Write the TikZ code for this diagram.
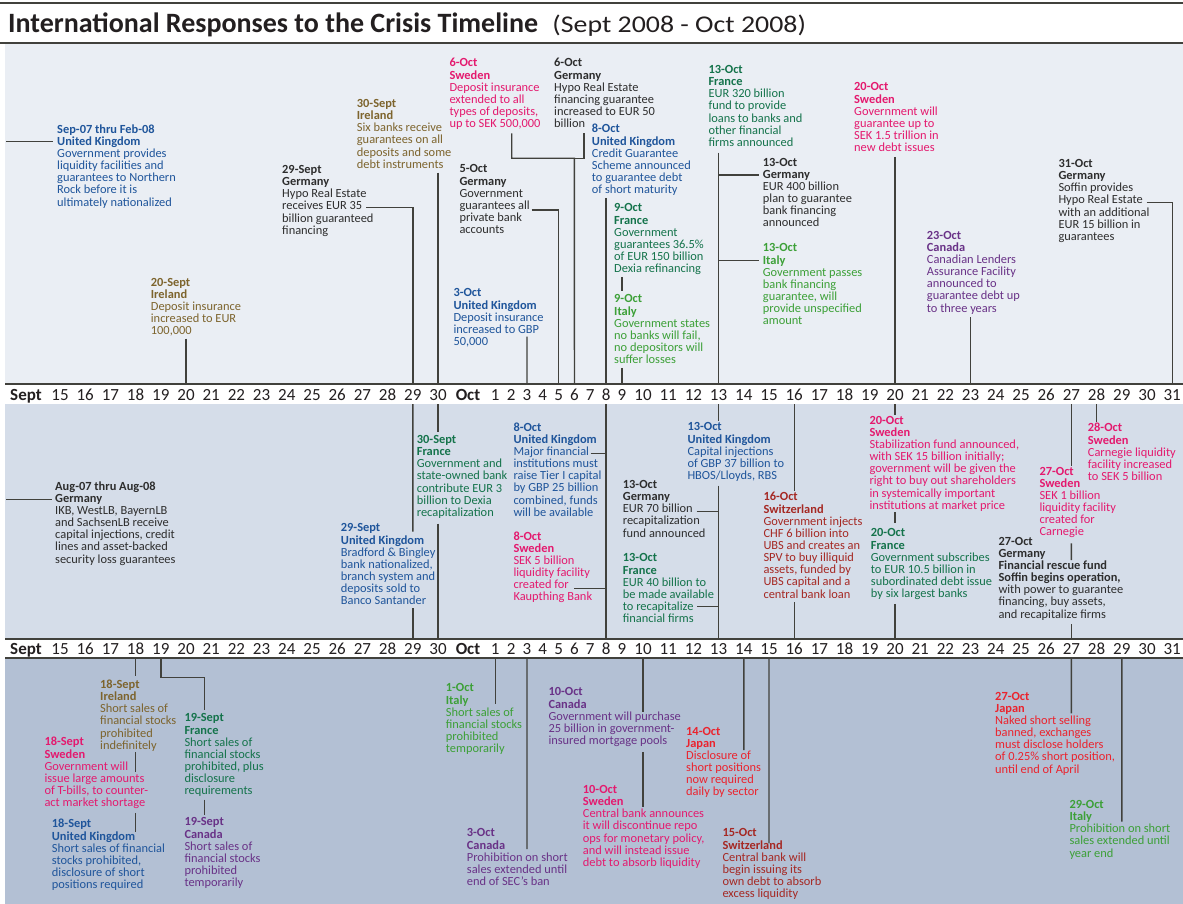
\documentclass[tikz,border=0pt]{standalone}
\usepackage{fontspec}
\usepackage{graphicx}
\setmainfont{Carlito}
\usetikzlibrary{calc}
\definecolor{cUK}{RGB}{31,85,155}
\definecolor{cIE}{RGB}{125,100,45}
\definecolor{cDE}{RGB}{45,45,45}
\definecolor{cSE}{RGB}{228,25,110}
\definecolor{cFR}{RGB}{20,115,75}
\definecolor{cIT}{RGB}{60,160,55}
\definecolor{cCA}{RGB}{105,50,135}
\definecolor{cCH}{RGB}{165,40,35}
\definecolor{cJP}{RGB}{235,35,45}
\definecolor{ptop}{RGB}{234,238,244}
\definecolor{pmid}{RGB}{213,221,233}
\definecolor{pbot}{RGB}{179,192,212}
\definecolor{linec}{RGB}{65,65,60}
\definecolor{titlec}{RGB}{35,31,32}
\newcommand{\evfont}{\fontsize{12.4}{12.15}\selectfont}
\newcommand{\axfont}{\fontsize{17}{17}\selectfont}
\newcommand{\evstrut}{\rule{0pt}{9.5pt}}
\newcommand{\evt}[7]{\node[ev,text=#4] (#1) at (#2,{#3-9.5}) {\evstrut\textbf{#5}\\\textbf{#6}\\#7};}
\begin{document}
\begin{tikzpicture}[x=1pt,y=-1pt,
  ev/.style={anchor=north west,inner sep=0pt,align=left,font=\evfont},
  conn/.style={draw=linec,line width=1.4pt},
  rulel/.style={draw=linec,line width=1.4pt},
  axl/.style={anchor=base,inner sep=0pt,font=\axfont,text=titlec}]
\useasboundingbox (0,0) rectangle (1183,904);
\fill[white] (0,0) rectangle (1183,904);
\fill[ptop] (5,43) rectangle (1183,384);
\fill[pmid] (5,404) rectangle (1183,639);
\fill[pbot] (5,658) rectangle (1183,904);
\draw[rulel] (0,3) -- (1183,3);
\draw[rulel] (0,43) -- (1183,43);
\draw[rulel] (5,384) -- (1183,384);
\draw[rulel] (5,639) -- (1183,639);
\draw[rulel] (5,658) -- (1183,658);
% title
\node[anchor=base west,inner sep=0pt,font=\fontsize{28}{28}\selectfont\bfseries,text=titlec] (title) at (8,33) {International Responses to the Crisis Timeline};
\node[anchor=base west,inner sep=0pt,font=\fontsize{24}{24}\selectfont,text=titlec] (subtitle) at ([xshift=14pt]title.base east) {\scalebox{1.16}[1]{(Sept 2008 - Oct 2008)}};
% axes
\foreach \dd in {15,...,30}{
  \pgfmathsetmacro{\xx}{186+(\dd-20)*25.2}
  \coordinate (Ts\dd) at (\xx,384); \coordinate (Us\dd) at (\xx,404);
  \coordinate (Vs\dd) at (\xx,639); \coordinate (Ws\dd) at (\xx,658);
  \node[axl] (aas\dd) at (\xx,400.7) {\dd};
  \node[axl] (abs\dd) at (\xx,654.7) {\dd};
}
\foreach \dd in {1,...,9}{
  \pgfmathsetmacro{\xx}{495.3+(\dd-1)*15.83}
  \coordinate (To\dd) at (\xx,384); \coordinate (Uo\dd) at (\xx,404);
  \coordinate (Vo\dd) at (\xx,639); \coordinate (Wo\dd) at (\xx,658);
  \node[axl] (aao\dd) at (\xx,400.7) {\dd};
  \node[axl] (abo\dd) at (\xx,654.7) {\dd};
}
\foreach \dd in {10,...,31}{
  \pgfmathsetmacro{\xx}{643+(\dd-10)*25.2}
  \coordinate (To\dd) at (\xx,384); \coordinate (Uo\dd) at (\xx,404);
  \coordinate (Vo\dd) at (\xx,639); \coordinate (Wo\dd) at (\xx,658);
  \node[axl] (aao\dd) at (\xx,400.7) {\dd};
  \node[axl] (abo\dd) at (\xx,654.7) {\dd};
}
\node[axl,font=\axfont\bfseries] (aasept) at (26,400.7) {Sept};
\node[axl,font=\axfont\bfseries] (absept) at (26,654.7) {Sept};
\node[axl,font=\axfont\bfseries] (aaoct) at (468,400.7) {Oct};
\node[axl,font=\axfont\bfseries] (aboct) at (468,654.7) {Oct};
% ---------- top panel events
\evt{t1}{57}{133}{cUK}{Sep-07 thru Feb-08}{United Kingdom}{Government provides\\liquidity facilities and\\guarantees to Northern\\Rock before it is\\ultimately nationalized}
\evt{t2}{150.7}{286}{cIE}{20-Sept}{Ireland}{Deposit insurance\\increased to EUR\\100,000}
\evt{t3}{282}{173.3}{cDE}{29-Sept}{Germany}{Hypo Real Estate\\receives EUR 35\\billion guaranteed\\financing}
\evt{t4}{356.7}{107.3}{cIE}{30-Sept}{Ireland}{Six banks receive\\guarantees on all\\deposits and some\\debt instruments}
\evt{t5}{449.3}{66.7}{cSE}{6-Oct}{Sweden}{Deposit insurance\\extended to all\\types of deposits,\\up to SEK 500,000}
\evt{t6}{554}{66.7}{cDE}{6-Oct}{Germany}{Hypo Real Estate\\financing guarantee\\increased to EUR 50\\billion}
\evt{t7}{591.7}{132.7}{cUK}{8-Oct}{United Kingdom}{Credit Guarantee\\Scheme announced\\to guarantee debt\\of short maturity}
\evt{t8}{614}{211.7}{cFR}{9-Oct}{France}{Government\\guarantees 36.5\%\\of EUR 150 billion\\Dexia refinancing}
\evt{t9}{614}{302.7}{cIT}{9-Oct}{Italy}{Government states\\no banks will fail,\\no depositors will\\suffer losses}
\evt{t10}{459.3}{172.7}{cDE}{5-Oct}{Germany}{Government\\guarantees all\\private bank\\accounts}
\evt{t11}{453.3}{296.7}{cUK}{3-Oct}{United Kingdom}{Deposit insurance\\increased to GBP\\50,000}
\evt{t12}{708.3}{73.3}{cFR}{13-Oct}{France}{EUR 320 billion\\fund to provide\\loans to banks and\\other financial\\firms announced}
\evt{t13}{762.7}{166}{cDE}{13-Oct}{Germany}{EUR 400 billion\\plan to guarantee\\bank financing\\announced}
\evt{t14}{762.7}{251.7}{cIT}{13-Oct}{Italy}{Government passes\\bank financing\\guarantee, will\\provide unspecified\\amount}
\evt{t15}{854}{90.7}{cSE}{20-Oct}{Sweden}{Government will\\guarantee up to\\SEK 1.5 trillion in\\new debt issues}
\evt{t16}{926.7}{239}{cCA}{23-Oct}{Canada}{Canadian Lenders\\Assurance Facility\\announced to\\guarantee debt up\\to three years}
\evt{t17}{1058.3}{167.3}{cDE}{31-Oct}{Germany}{Soffin provides\\Hypo Real Estate\\with an additional\\EUR 15 billion in\\guarantees}
% ---------- middle panel events
\evt{m1}{55}{490}{cDE}{Aug-07 thru Aug-08}{Germany}{IKB, WestLB, BayernLB\\and SachsenLB receive\\capital injections, credit\\lines and asset-backed\\security loss guarantees}
\evt{m2}{340.7}{531.7}{cUK}{29-Sept}{United Kingdom}{Bradford \& Bingley\\bank nationalized,\\branch system and\\deposits sold to\\Banco Santander}
\evt{m3}{416.7}{443.3}{cFR}{30-Sept}{France}{Government and\\state-owned bank\\contribute EUR 3\\billion to Dexia\\recapitalization}
\evt{m4}{513.3}{431}{cUK}{8-Oct}{United Kingdom}{Major financial\\institutions must\\raise Tier I capital\\by GBP 25 billion\\combined, funds\\will be available}
\evt{m5}{513.3}{540}{cSE}{8-Oct}{Sweden}{SEK 5 billion\\liquidity facility\\created for\\Kaupthing Bank}
\evt{m6}{687.3}{430.7}{cUK}{13-Oct}{United Kingdom}{Capital injections\\of GBP 37 billion to\\HBOS/Lloyds, RBS}
\evt{m7}{622.7}{488.3}{cDE}{13-Oct}{Germany}{EUR 70 billion\\recapitalization\\fund announced}
\evt{m8}{622.7}{561.7}{cFR}{13-Oct}{France}{EUR 40 billion to\\be made available\\to recapitalize\\financial firms}
\evt{m9}{763.3}{500.7}{cCH}{16-Oct}{Switzerland}{Government injects\\CHF 6 billion into\\UBS and creates an\\SPV to buy illiquid\\assets, funded by\\UBS capital and a\\central bank loan}
\evt{m10}{869.3}{424}{cSE}{20-Oct}{Sweden}{Stabilization fund announced,\\with SEK 15 billion initially;\\government will be given the\\right to buy out shareholders\\in systemically important\\institutions at market price}
\evt{m11}{870.7}{536.7}{cFR}{20-Oct}{France}{Government subscribes\\to EUR 10.5 billion in\\subordinated debt issue\\by six largest banks}
\evt{m12}{1039.3}{475}{cSE}{27-Oct}{Sweden}{SEK 1 billion\\liquidity facility\\created for\\Carnegie}
\evt{m13}{1087.7}{431.7}{cSE}{28-Oct}{Sweden}{Carnegie liquidity\\facility increased\\to SEK 5 billion}
\evt{m14}{998.3}{545}{cDE}{27-Oct}{Germany}{\textbf{Financial rescue fund}\\\textbf{Soffin begins operation,}\\with power to guarantee\\financing, buy assets,\\and recapitalize firms}
% ---------- bottom panel events
\evt{b1}{100}{688.3}{cIE}{18-Sept}{Ireland}{Short sales of\\financial stocks\\prohibited\\indefinitely}
\evt{b2}{44.3}{745.7}{cSE}{18-Sept}{Sweden}{Government will\\issue large amounts\\of T-bills, to counter-\\act market shortage}
\evt{b3}{51.7}{827.7}{cUK}{18-Sept}{United Kingdom}{Short sales of financial\\stocks prohibited,\\disclosure of short\\positions required}
\evt{b4}{184.3}{721.7}{cFR}{19-Sept}{France}{Short sales of\\financial stocks\\prohibited, plus\\disclosure\\requirements}
\evt{b5}{184.3}{825.7}{cCA}{19-Sept}{Canada}{Short sales of\\financial stocks\\prohibited\\temporarily}
\evt{b6}{445.7}{691.7}{cIT}{1-Oct}{Italy}{Short sales of\\financial stocks\\prohibited\\temporarily}
\evt{b7}{466.7}{836.7}{cCA}{3-Oct}{Canada}{Prohibition on short\\sales extended until\\end of SEC's ban}
\evt{b8}{548.3}{695.7}{cCA}{10-Oct}{Canada}{Government will purchase\\25 billion in government-\\insured mortgage pools}
\evt{b9}{582.7}{793.3}{cSE}{10-Oct}{Sweden}{Central bank announces\\it will discontinue repo\\ops for monetary policy,\\and will instead issue\\debt to absorb liquidity}
\evt{b10}{686}{735}{cJP}{14-Oct}{Japan}{Disclosure of\\short positions\\now required\\daily by sector}
\evt{b11}{722.3}{836.7}{cCH}{15-Oct}{Switzerland}{Central bank will\\begin issuing its\\own debt to absorb\\excess liquidity}
\evt{b12}{995}{700}{cJP}{27-Oct}{Japan}{Naked short selling\\banned, exchanges\\must disclose holders\\of 0.25\% short position,\\until end of April}
\evt{b13}{1069.3}{808.3}{cIT}{29-Oct}{Italy}{Prohibition on short\\sales extended until\\year end}
% ---------- connectors, top
\coordinate (c1) at (6,141.7);
\draw[conn,shorten >=4pt] (c1) -- (c1 -| t1.west);
\draw[conn,shorten <=2pt] (t2.south -| Ts20) -- (Ts20);
\coordinate (c3) at (366,207.7);
\draw[conn] (c3) -| (Ts29);
\draw[conn,shorten <=4pt] (t4.south -| Ts30) -- (Ts30);
\coordinate (c5) at (511.7,133.3);
\coordinate (c6) at (584,133.3);
\coordinate (j6) at (574.4,158.3);
\draw[conn] (c5) |- (j6) -- (To6);
\draw[conn] (c6) |- (j6);
\draw[conn,shorten <=2pt] (t7.south -| To8) -- (To8);
\draw[conn,shorten <=2pt,shorten >=2pt] (t8.south -| To9) -- (t9.north -| To9);
\draw[conn,shorten <=4pt] (t9.south -| To9) -- (To9);
\coordinate (c10) at (531.7,210);
\draw[conn] (c10) -| (To5);
\coordinate (c11) at (527,336.7);
\draw[conn] (c11) -- (To3);
\draw[conn,shorten <=6pt] (t12.south -| To13) -- (To13);
\coordinate (c12a) at (718.6,175);
\coordinate (c12b) at (718.6,260.7);
\draw[conn,shorten >=3.4pt] (c12a) -- (c12a -| t13.west);
\draw[conn,shorten >=3.4pt] (c12b) -- (c12b -| t14.west);
\draw[conn,shorten <=5pt] (t15.south -| To20) -- (To20);
\draw[conn,shorten <=3pt] (t16.south -| To23) -- (To23);
\coordinate (c17) at (1146.7,202.3);
\draw[conn] (c17) -| (To31);
% ---------- connectors, middle
\coordinate (c21) at (6,499.3);
\draw[conn,shorten >=3pt] (c21) -- (c21 -| m1.west);
\coordinate (c22) at (412.8,531.7);
\draw[conn] (Us29) -- (c22);
\draw[conn,shorten <=3pt] (m2.south -| Vs29) -- (Vs29);
\draw[conn,shorten >=2pt] (Us30) -- (Us30 |- m3.north);
\draw[conn,shorten <=5pt] (m3.south -| Vs30) -- (Vs30);
\draw[conn] (Uo8) -- (Vo8);
\coordinate (c24) at (590.7,453.3);
\draw[conn] (c24) -- (c24 -| Uo8);
\coordinate (c25) at (574,588.3);
\draw[conn] (c25) -- (c25 -| Uo8);
\draw[conn] (Uo13) -- (Uo13 |- m6.north);
\draw[conn,shorten <=4pt] (m6.south -| Vo13) -- (Vo13);
\coordinate (c27) at (696.7,511.7);
\draw[conn] (c27) -- (c27 -| Uo13);
\coordinate (c28) at (697.3,606.7);
\draw[conn] (c28) -- (c28 -| Uo13);
\draw[conn] (Uo16) -- (Uo16 |- m9.north);
\draw[conn,shorten <=4pt] (m9.south -| Vo16) -- (Vo16);
\draw[conn] (Uo20) -- (Uo20 |- m10.north);
\draw[conn,shorten <=1pt,shorten >=4pt] (m10.south -| Uo20) -- (m11.north -| Uo20);
\draw[conn,shorten <=4pt] (m11.south -| Vo20) -- (Vo20);
\draw[conn] (Uo27) -- (Uo27 |- m12.north);
\coordinate (c32) at (1071.4,560);
\draw[conn,shorten <=5pt] (m12.south -| Uo27) -- (c32);
\draw[conn,shorten <=4pt] (m14.south -| Vo27) -- (Vo27);
\draw[conn] (Uo28) -- (Uo28 |- m13.north);
% ---------- connectors, bottom
\draw[conn,shorten >=3pt] (Ws18) -- (Ws18 |- b1.north);
\coordinate (c41) at (135.6,771.7);
\draw[conn,shorten <=1pt] (b1.south -| Ws18) -- (c41);
\coordinate (c42) at (135.6,832);
\draw[conn,shorten <=4pt] (b2.south -| Ws18) -- (c42);
\coordinate (c43a) at (204.5,677.7);
\coordinate (c43b) at (204.5,710);
\draw[conn] (Ws19) |- (c43a) -- (c43b);
\draw[conn,shorten <=2.5pt,shorten >=1pt] (b4.south -| c43a) -- (b5.north -| c43a);
\coordinate (c46) at (495.3,704.3);
\draw[conn] (Wo1) -- (c46);
\coordinate (c47) at (527,849);
\draw[conn] (Wo3) -- (c47);
\coordinate (c48) at (643,711.7);
\draw[conn] (Wo10) -- (c48);
\coordinate (c49) at (643,806.7);
\draw[conn,shorten <=5pt] (b8.south -| Wo10) -- (c49);
\coordinate (c50) at (743.8,750);
\draw[conn] (Wo14) -- (c50);
\coordinate (c51) at (769,843.3);
\draw[conn] (Wo15) -- (c51);
\coordinate (c52) at (1071.4,713.3);
\draw[conn] (Wo27) -- (c52);
\coordinate (c53) at (1121.8,821.7);
\draw[conn] (Wo29) -- (c53);
\end{tikzpicture}
\end{document}
